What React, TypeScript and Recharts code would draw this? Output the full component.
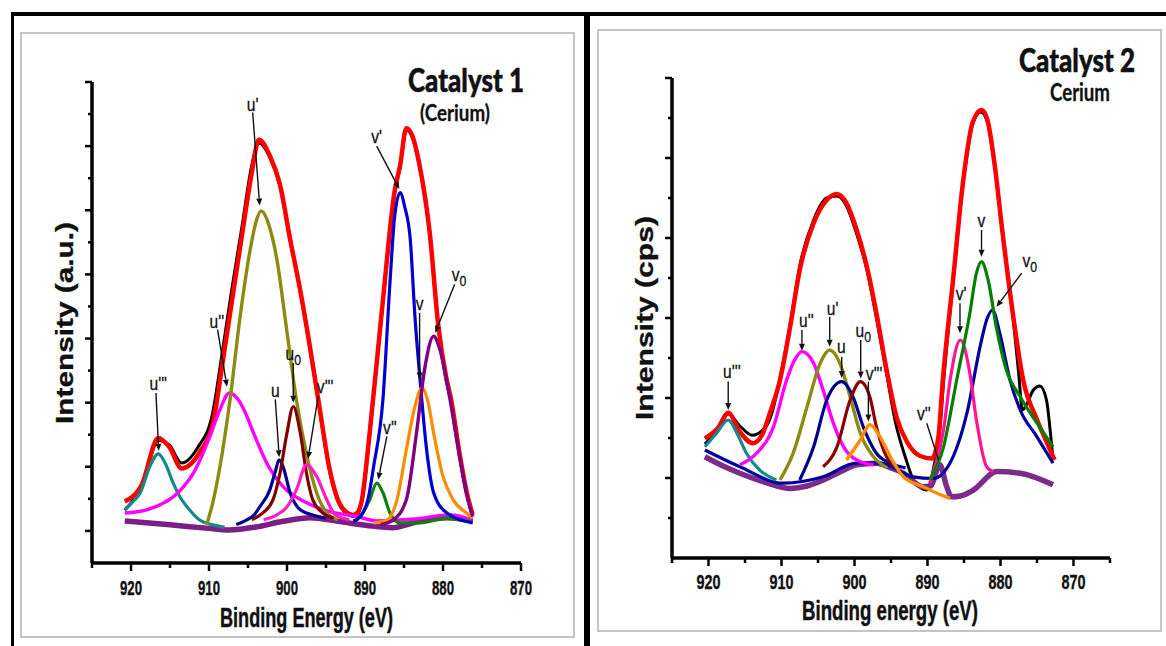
import React from "react";
import { LineChart, Line, XAxis, YAxis, ReferenceLine, ReferenceDot } from "recharts";

type Pt = [number, number];

// ================= Catalyst 1 (left panel) =================
const c1Raw: Pt[] = [[920.8,1.65],[918.6,2.4],[916.5,3.82],[915.1,3.68],[913.5,3.12],[911.4,3.62],[909.6,4.6],[908.4,6.4],[907.1,8.5],[905.7,10.6],[904.6,12.3],[903.6,13.1],[902.2,12.65],[900.9,11.75],[899.6,10.05],[898.3,8.45],[897.1,6.75],[895.8,4.75],[894.6,2.95],[893.0,1.7],[891.5,1.45],[891.0,1.5],[890.4,1.92],[889.4,4.0],[887.7,8.15],[886.2,11.55],[885.5,12.35],[884.7,13.5],[883.9,13.25],[883.0,12.35],[881.7,10.25],[880.6,7.35],[879.6,5.75],[879.0,5.1],[877.8,3.25],[877.0,2.2],[876.2,1.45]];
const c1Fit: Pt[] = [[920.8,1.92],[918.6,2.45],[916.5,3.9],[915.1,3.62],[913.5,2.95],[911.2,3.45],[909.4,4.47],[908.2,6.34],[906.9,8.43],[905.6,10.5],[904.5,12.2],[903.6,13.2],[902.2,12.7],[900.9,11.8],[899.6,10.1],[898.3,8.5],[897.1,6.8],[895.8,4.8],[894.6,3.0],[893.0,1.75],[891.5,1.5],[891.0,1.56],[890.4,1.97],[889.4,4.06],[887.7,8.2],[886.2,11.6],[885.5,12.4],[884.7,13.56],[883.9,13.3],[883.0,12.4],[881.7,10.3],[880.6,7.4],[879.6,5.8],[879.0,5.15],[877.8,3.3],[877.0,2.25],[876.2,1.5]];
const c1Bg: Pt[] = [[920.8,1.31],[915.0,1.19],[910.0,1.08],[907.5,1.03],[904.0,1.12],[900.5,1.3],[897.0,1.41],[893.5,1.3],[889.0,1.15],[886.5,1.1],[883.0,1.3],[879.5,1.41],[876.2,1.31]];
const c1U3: Pt[] = [[920.8,1.66],[919.8,1.9],[918.8,2.19],[917.6,3.0],[916.5,3.4],[915.6,3.1],[914.6,2.5],[913.7,2.05],[912.8,1.75],[911.2,1.34],[909.5,1.19],[908.0,1.12]];
const c1U2: Pt[] = [[920.8,1.56],[918.0,1.66],[916.0,1.85],[914.6,2.06],[913.2,2.4],[912.0,2.8],[910.9,3.35],[909.9,3.94],[908.6,4.78],[907.4,5.3],[906.0,5.0],[905.1,4.55],[904.3,4.06],[902.6,3.12],[900.5,2.38],[897.4,1.87],[894.5,1.6],[891.0,1.45],[888.6,1.31],[883.7,1.37],[879.0,1.5],[876.2,1.34]];
const c1U1: Pt[] = [[910.3,1.19],[909.5,1.9],[908.6,3.0],[907.3,5.1],[906.0,7.7],[904.7,9.8],[903.9,10.7],[903.3,10.98],[902.4,10.6],[901.3,9.47],[900.0,7.2],[898.8,5.1],[897.5,3.4],[896.2,2.19],[894.9,1.56],[893.5,1.35]];
const c1U: Pt[] = [[906.5,1.2],[905.2,1.34],[904.2,1.5],[903.5,1.75],[902.2,2.28],[901.5,2.85],[901.0,3.22],[900.5,3.0],[899.6,2.19],[898.3,1.66],[896.7,1.5],[895.0,1.4]];
const c1U0: Pt[] = [[904.5,1.35],[903.1,1.56],[901.8,1.97],[900.9,2.8],[900.0,4.06],[899.2,4.88],[898.3,4.06],[897.5,2.8],[896.7,1.97],[895.4,1.56],[894.0,1.4]];
const c1V3: Pt[] = [[903.0,1.35],[901.3,1.5],[900.0,1.75],[898.8,2.28],[897.5,3.06],[896.2,2.7],[894.9,1.97],[893.8,1.5],[892.0,1.35]];
const c1V2: Pt[] = [[891.5,1.3],[890.6,1.45],[889.4,1.97],[888.5,2.49],[887.7,2.19],[886.8,1.56],[885.5,1.25],[882.9,1.25],[879.5,1.4],[876.2,1.28]];
const c1V1: Pt[] = [[891.5,1.3],[890.6,1.45],[889.6,2.0],[888.9,3.0],[887.7,5.1],[886.8,8.74],[886.2,10.8],[885.5,11.55],[884.9,11.1],[884.2,10.1],[883.6,7.7],[882.9,5.6],[882.1,3.53],[881.2,2.19],[879.5,1.56],[876.2,1.25]];
const c1V: Pt[] = [[888.8,1.25],[887.2,1.34],[885.9,1.97],[884.7,3.53],[883.6,4.88],[882.7,5.46],[881.9,5.0],[881.2,4.05],[880.0,2.7],[878.7,1.97],[877.0,1.56],[876.2,1.4]];
const c1V0: Pt[] = [[888.0,1.2],[886.4,1.34],[884.7,1.97],[883.4,4.05],[882.3,6.13],[881.2,7.07],[880.4,6.66],[879.1,5.1],[877.8,3.22],[877.0,2.18],[876.2,1.45]];

// ================= Catalyst 2 (right panel) =================
const c2Raw: Pt[] = [[920.5,2.85],[918.7,3.2],[917.3,3.6],[915.7,3.3],[914.0,3.07],[912.0,3.32],[911.2,3.7],[910.2,4.5],[908.8,5.85],[907.5,7.3],[905.6,8.45],[903.8,9.0],[902.4,9.05],[901.1,8.8],[899.7,8.1],[898.3,7.2],[897.0,6.0],[895.6,4.6],[894.4,3.4],[893.0,2.5],[891.9,1.95],[890.1,1.7],[889.1,2.31],[888.3,3.24],[887.8,4.4],[886.5,6.9],[885.1,9.4],[883.8,10.85],[882.7,11.15],[881.8,10.9],[880.8,9.8],[879.75,8.15],[878.3,6.05],[877.5,4.6],[877.0,3.7],[876.4,3.85],[875.5,4.2],[874.6,4.3],[873.7,3.95],[873.2,3.2],[872.8,2.45]];
const c2Fit: Pt[] = [[920.5,2.99],[918.7,3.25],[917.3,3.63],[915.7,3.15],[913.9,2.87],[912.6,3.1],[911.6,3.62],[910.2,4.45],[908.8,5.8],[907.5,7.2],[905.6,8.37],[903.8,8.95],[902.4,9.1],[901.1,8.87],[899.7,8.2],[898.3,7.28],[897.0,6.12],[895.6,4.7],[894.2,3.5],[892.8,2.9],[891.0,2.55],[889.4,2.49],[888.5,3.03],[887.9,4.45],[886.5,6.95],[885.1,9.45],[883.8,10.9],[882.6,11.2],[881.8,10.96],[880.8,9.83],[879.75,8.18],[878.3,6.1],[876.9,4.45],[875.1,3.5],[873.8,2.95],[872.6,2.45]];
const c2Bg: Pt[] = [[920.5,2.53],[918.0,2.3],[915.7,2.12],[912.0,1.88],[908.8,1.74],[906.5,1.8],[904.3,1.95],[902.0,2.15],[899.7,2.33],[897.0,2.37],[895.0,2.25],[893.3,2.12],[890.6,1.78],[889.6,1.8],[888.3,2.33],[887.4,1.8],[886.7,1.53],[885.5,1.55],[883.7,1.7],[880.5,2.16],[877.3,2.12],[872.8,1.83]];
const c2U3: Pt[] = [[920.5,2.78],[918.9,3.12],[917.3,3.45],[916.1,3.12],[914.8,2.62],[913.0,2.2],[910.7,1.95]];
const c2U2: Pt[] = [[915.7,2.33],[913.4,2.62],[911.1,3.28],[909.3,4.45],[908.2,4.95],[907.2,5.16],[905.6,4.87],[904.3,4.2],[902.9,3.37],[901.5,2.78],[899.7,2.45],[897.4,2.33]];
const c2U1: Pt[] = [[910.2,1.95],[908.4,2.62],[906.5,3.78],[904.7,4.87],[903.4,5.2],[902.0,4.87],[900.6,4.03],[899.2,3.12],[897.4,2.53],[895.5,2.25]];
const c2U: Pt[] = [[907.5,1.95],[905.6,2.78],[903.8,3.95],[901.75,4.41],[900.2,4.03],[898.8,3.28],[897.0,2.62],[895.1,2.37],[893.0,2.25]];
const c2U0: Pt[] = [[904.3,2.28],[902.4,2.78],[900.6,3.95],[899.2,4.41],[897.9,4.03],[897.0,3.28],[895.6,2.53],[894.2,2.28]];
const c2V3: Pt[] = [[901.1,2.45],[899.2,2.95],[897.9,3.33],[896.5,3.03],[895.1,2.53],[893.3,2.03],[890.6,1.78],[888.7,1.62],[886.9,1.49]];
const c2V1: Pt[] = [[889.7,1.87],[889.0,2.28],[887.8,3.2],[886.9,4.45],[885.5,5.45],[884.2,4.62],[883.3,3.45],[881.9,2.28],[881.0,2.16]];
const c2V: Pt[] = [[889.7,1.95],[887.8,2.78],[886.0,4.45],[884.2,6.12],[883.3,7.12],[882.6,7.41],[881.7,6.95],[880.5,5.7],[879.2,4.7],[877.3,4.03],[875.0,3.37],[872.8,2.78]];
const c2V0: Pt[] = [[920.5,2.7],[915.7,2.28],[909.8,1.87],[904.3,2.03],[899.7,2.37],[896.5,2.37],[892.0,2.03],[889.2,1.99],[886.5,2.53],[884.6,3.62],[882.8,5.28],[881.9,5.95],[881.1,6.2],[880.1,5.62],[878.7,4.45],[877.3,3.7],[875.0,3.03],[872.8,2.37]];

// ================= ticks =================
const c1XTicks = [925, 920, 915, 910, 905, 900, 895, 890, 885, 880, 875, 870];
const c2XTicks = [925, 920, 915, 910, 905, 900, 895, 890, 885, 880, 875, 870, 865];
const c1YTicks = [1, 2, 3, 4, 5, 6, 7, 8, 9, 10, 11, 12, 13, 14, 15];
const c2YTicks = [1, 2, 3, 4, 5, 6, 7, 8, 9, 10, 11, 12];

// ================= peak annotations =================
type Note = { text: string; sub?: string; lx: number; ly: number; x1: number; y1: number; x2: number; y2: number; head?: boolean };
const c1Notes: Note[] = [
  { text: "u'''", lx: 916.5, ly: 5.4, x1: 916.8, y1: 5.3, x2: 916.45, y2: 3.5 },
  { text: "u''", lx: 909.0, ly: 7.34, x1: 908.9, y1: 7.28, x2: 907.7, y2: 5.5 },
  { text: "u'", lx: 904.4, ly: 14.1, x1: 904.4, y1: 14.05, x2: 903.5, y2: 11.15 },
  { text: "u", lx: 901.5, ly: 5.19, x1: 901.5, y1: 5.1, x2: 901.0, y2: 3.3 },
  { text: "u", sub: "0", lx: 899.2, ly: 6.34, x1: 899.2, y1: 6.24, x2: 899.2, y2: 5.0 },
  { text: "v'''", lx: 895.1, ly: 5.31, x1: 896.0, y1: 5.2, x2: 897.3, y2: 3.25 },
  { text: "v''", lx: 886.8, ly: 4.03, x1: 887.2, y1: 3.95, x2: 888.3, y2: 2.6 },
  { text: "v'", lx: 888.5, ly: 13.1, x1: 888.5, y1: 13.0, x2: 885.6, y2: 11.66 },
  { text: "v", lx: 883.0, ly: 7.875, x1: 883.0, y1: 7.8, x2: 883.0, y2: 5.72 },
  { text: "v", sub: "0", lx: 877.95, ly: 8.8, x1: 878.5, y1: 8.69, x2: 881.0, y2: 7.18 },
];
const c2Notes: Note[] = [
  { text: "u'''", lx: 916.8, ly: 4.5, x1: 917.3, y1: 4.41, x2: 917.3, y2: 3.7 },
  { text: "u''", lx: 906.6, ly: 5.78, x1: 907.2, y1: 5.7, x2: 907.2, y2: 5.18 },
  { text: "u'", lx: 903.0, ly: 6.08, x1: 903.4, y1: 6.03, x2: 903.4, y2: 5.28 },
  { text: "u", lx: 901.8, ly: 5.13, x1: 901.75, y1: 5.03, x2: 901.75, y2: 4.5 },
  { text: "u", sub: "0", lx: 898.8, ly: 5.53, x1: 899.15, y1: 5.45, x2: 899.15, y2: 4.49 },
  { text: "v'''", lx: 897.3, ly: 4.45, x1: 898.1, y1: 4.41, x2: 898.1, y2: 3.41 },
  { text: "v''", lx: 890.5, ly: 3.45, x1: 890.1, y1: 3.37, x2: 888.5, y2: 2.45, head: false },
  { text: "v'", lx: 885.4, ly: 6.45, x1: 885.55, y1: 6.37, x2: 885.55, y2: 5.62 },
  { text: "v", lx: 882.6, ly: 8.28, x1: 882.6, y1: 8.2, x2: 882.6, y2: 7.53 },
  { text: "v", sub: "0", lx: 876.0, ly: 7.28, x1: 877.1, y1: 7.12, x2: 880.55, y2: 6.28 },
];

// ================= series styles (built from the arrays) =================
const c1Series = [
  { name: "raw", data: c1Raw, color: "#000000", w: 3 },
  { name: "fit", data: c1Fit, color: "#ff0000", w: 4.5 },
  { name: "bg", data: c1Bg, color: "#7a1f86", w: 5.5 },
  { name: "u3", data: c1U3, color: "#138a8a", w: 3.2 },
  { name: "u2", data: c1U2, color: "#ff00ff", w: 3.4 },
  { name: "u1", data: c1U1, color: "#8b8b12", w: 3.4 },
  { name: "u", data: c1U, color: "#000090", w: 3.2 },
  { name: "u0", data: c1U0, color: "#800000", w: 3.2 },
  { name: "v3", data: c1V3, color: "#ff1fc0", w: 3.2 },
  { name: "v2", data: c1V2, color: "#0a850a", w: 3.2 },
  { name: "v1", data: c1V1, color: "#0000d0", w: 3.2 },
  { name: "v", data: c1V, color: "#ff8c00", w: 3.2 },
  { name: "v0", data: c1V0, color: "#800080", w: 3.4 },
];
const c2Series = [
  { name: "raw", data: c2Raw, color: "#000000", w: 3 },
  { name: "fit", data: c2Fit, color: "#ff0000", w: 4.5 },
  { name: "bg", data: c2Bg, color: "#7d2b8b", w: 5.5 },
  { name: "v0", data: c2V0, color: "#0000a0", w: 3.2 },
  { name: "u3", data: c2U3, color: "#138a8a", w: 3.2 },
  { name: "u2", data: c2U2, color: "#ff00ff", w: 3.4 },
  { name: "u1", data: c2U1, color: "#8b8b12", w: 3.4 },
  { name: "u", data: c2U, color: "#00008b", w: 3.2 },
  { name: "u0", data: c2U0, color: "#8b0000", w: 3.2 },
  { name: "v3", data: c2V3, color: "#ff8c00", w: 3.4 },
  { name: "v1", data: c2V1, color: "#ff1493", w: 3.2 },
  { name: "v", data: c2V, color: "#008000", w: 3.2 },
];

const rows = (a: Pt[]) => a.map(([x, y]) => ({ x, y }));
const FONT = "'Liberation Sans', Arial, sans-serif";

function makeXTick(labelW: number, labelDy: number) {
  return (p: any) => {
    const { x, y, payload } = p;
    const v = payload.value;
    const major = v % 10 === 0;
    return (
      <g>
        <line x1={x} y1={y} x2={x} y2={y + (major ? 8 : 5)} stroke="#000" strokeWidth={2.5} />
        {major && (
          <text x={x} y={y + labelDy} textAnchor="middle" fontFamily={FONT} fontWeight={700} fontSize={20} fill="#111" stroke="#111" strokeWidth={0.4} textLength={labelW} lengthAdjust="spacingAndGlyphs">
            {v}
          </text>
        )}
      </g>
    );
  };
}
function makeYTick(isMajor: (v: number) => boolean) {
  return (p: any) => {
    const { x, y, payload } = p;
    const major = isMajor(payload.value);
    return <line x1={x - (major ? 7 : 4)} y1={y} x2={x} y2={y} stroke="#000" strokeWidth={2.5} />;
  };
}

const arrowShape = (head: boolean) => (p: any) => {
  const { x1, y1, x2, y2 } = p;
  const dx = x2 - x1, dy = y2 - y1;
  const L = Math.sqrt(dx * dx + dy * dy) || 1;
  const ux = dx / L, uy = dy / L;
  const hl = 7, hw = 3;
  const bx = x2 - ux * hl, by = y2 - uy * hl;
  return (
    <g>
      <line x1={x1} y1={y1} x2={head ? bx : x2} y2={head ? by : y2} stroke="#111" strokeWidth={1.4} />
      {head && <polygon points={`${x2},${y2} ${bx - uy * hw},${by + ux * hw} ${bx + uy * hw},${by - ux * hw}`} fill="#111" />}
    </g>
  );
};
const labelShape = (n: Note) => (p: any) => {
  const { cx, cy } = p;
  return (
    <text transform={`translate(${cx},${cy}) scale(0.82,1)`} x={0} y={0} textAnchor="middle" fontFamily={FONT} fontSize={19} fill="#111" stroke="#111" strokeWidth={0.3}>
      {n.text}
      {n.sub ? <tspan dy={5} fontSize={15}>{n.sub}</tspan> : null}
    </text>
  );
};

function Panel(props: { width: number; margin: any; xDomain: [number, number]; xTicks: number[]; yDomain: [number, number]; yTicks: number[]; isMajor: (v: number) => boolean; series: typeof c1Series; notes: Note[]; labelW: number; labelDy: number }) {
  const { width, margin, xDomain, xTicks, yDomain, yTicks, isMajor, series, notes, labelW, labelDy } = props;
  return (
    <LineChart width={width} height={646} margin={margin}>
      <XAxis type="number" dataKey="x" domain={xDomain} reversed ticks={xTicks} interval={0} tickSize={0} tickMargin={0} height={30} tickLine={false} axisLine={{ stroke: "#000", strokeWidth: 3.5 }} tick={makeXTick(labelW, labelDy)} allowDataOverflow />
      <YAxis type="number" domain={yDomain} ticks={yTicks} interval={0} tickSize={0} tickMargin={0} width={30} tickLine={false} axisLine={{ stroke: "#000", strokeWidth: 3.5 }} tick={makeYTick(isMajor)} allowDataOverflow />
      {series.map((s) => (
        <Line key={s.name} data={rows(s.data)} dataKey="y" type="monotone" stroke={s.color} strokeWidth={s.w} dot={false} activeDot={false} isAnimationActive={false} />
      ))}
      {notes.map((n, i) => (
        <ReferenceLine key={"a" + i} segment={[{ x: n.x1, y: n.y1 }, { x: n.x2, y: n.y2 }]} shape={arrowShape(n.head !== false)} ifOverflow="visible" />
      ))}
      {notes.map((n, i) => (
        <ReferenceDot key={"l" + i} x={n.lx} y={n.ly} r={1} shape={labelShape(n)} ifOverflow="visible" />
      ))}
    </LineChart>
  );
}

export default function App() {
  return (
    <div style={{ position: "absolute", left: 0, top: 0, width: 1166, height: 646, background: "#fff", overflow: "hidden" }}>
      <div style={{ position: "absolute", left: 0, top: 0 }}>
        <Panel width={590} margin={{ top: 82, right: 69, bottom: 53, left: 62 }} xDomain={[870, 925]} xTicks={c1XTicks} yDomain={[0, 15]} yTicks={c1YTicks} isMajor={(v) => v % 2 === 1} series={c1Series} notes={c1Notes} labelW={22} labelDy={32} />
      </div>
      <div style={{ position: "absolute", left: 590, top: 0 }}>
        <Panel width={576} margin={{ top: 78, right: 56, bottom: 58, left: 52 }} xDomain={[865, 925]} xTicks={c2XTicks} yDomain={[0, 12]} yTicks={c2YTicks} isMajor={(v) => v % 2 === 0} series={c2Series} notes={c2Notes} labelW={24} labelDy={31} />
      </div>
      <svg width={1166} height={646} style={{ position: "absolute", left: 0, top: 0, pointerEvents: "none" }}>
        <rect x={21} y={33} width={553} height={604} fill="none" stroke="#c4c4c4" strokeWidth={2} />
        <rect x={598} y={30} width={563} height={601} fill="none" stroke="#c4c4c4" strokeWidth={2} />
        <rect x={11} y={12} width={1155} height={4} fill="#000" />
        <rect x={11} y={12} width={3} height={634} fill="#000" />
        <rect x={584} y={12} width={6} height={634} fill="#000" />

        <text x={466} y={92} textAnchor="middle" fontFamily="Lato, sans-serif" fontWeight={900} fontSize={33} fill="#111" stroke="#111" strokeWidth={0.5} textLength={116} lengthAdjust="spacingAndGlyphs">Catalyst 1</text>
        <text x={455} y={121} textAnchor="middle" fontFamily="Lato, sans-serif" fontWeight={700} fontSize={22} fill="#111" stroke="#111" strokeWidth={0.3} textLength={70} lengthAdjust="spacingAndGlyphs">(Cerium)</text>
        <text x={1077} y={72} textAnchor="middle" fontFamily="Lato, sans-serif" fontWeight={900} fontSize={32} fill="#111" stroke="#111" strokeWidth={0.5} textLength={116} lengthAdjust="spacingAndGlyphs">Catalyst 2</text>
        <text x={1080} y={101} textAnchor="middle" fontFamily="Lato, sans-serif" fontWeight={700} fontSize={24} fill="#111" stroke="#111" strokeWidth={0.3} textLength={60} lengthAdjust="spacingAndGlyphs">Cerium</text>

        <text x={306.5} y={627} textAnchor="middle" fontFamily={FONT} fontWeight={700} fontSize={28} fill="#111" stroke="#111" strokeWidth={0.5} textLength={173} lengthAdjust="spacingAndGlyphs">Binding Energy (eV)</text>
        <text x={890} y={620} textAnchor="middle" fontFamily={FONT} fontWeight={700} fontSize={27} fill="#111" stroke="#111" strokeWidth={0.5} textLength={176} lengthAdjust="spacingAndGlyphs">Binding energy (eV)</text>

        <text transform="translate(73,323) scale(0.8,1) rotate(-90)" x={0} y={0} textAnchor="middle" fontFamily={FONT} fontWeight={700} fontSize={29} fill="#111" stroke="#111" strokeWidth={0.4} textLength={202} lengthAdjust="spacingAndGlyphs">Intensity (a.u.)</text>
        <text transform="translate(653,318) scale(0.8,1) rotate(-90)" x={0} y={0} textAnchor="middle" fontFamily={FONT} fontWeight={700} fontSize={30} fill="#111" stroke="#111" strokeWidth={0.4} textLength={204} lengthAdjust="spacingAndGlyphs">Intensity (cps)</text>
      </svg>
    </div>
  );
}
